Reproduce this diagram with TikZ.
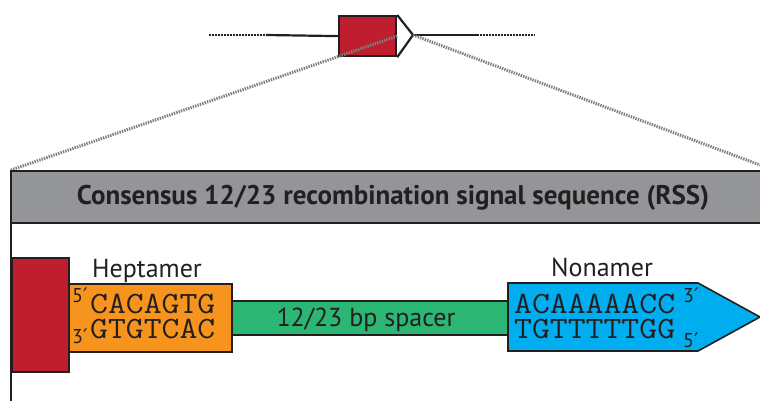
\documentclass[tikz,border=0pt]{standalone}
\usepackage{fontspec}
\setmainfont{PT Sans}
\newfontfamily\primefont{DejaVu Sans}
\definecolor{ink}{HTML}{231F20}
\definecolor{rssred}{HTML}{BE1E2D}
\definecolor{heptorange}{HTML}{F7941D}
\definecolor{spacergreen}{HTML}{2BB673}
\definecolor{nonblue}{HTML}{00AEEF}
\definecolor{headgray}{HTML}{939598}
\definecolor{zoomgray}{HTML}{7F7F7F}
\newcommand{\pr}{{\primefont ′}}
\newcommand{\seq}[1]{\scalebox{1.12}[1]{#1}}
\tikzset{
  outline/.style={draw=ink, line width=1.6pt},
  chrom/.style={draw=ink, line width=2.2pt},
  chromdots/.style={draw=ink, line width=2.2pt, dash pattern=on 1.5pt off 1.5pt},
  zoomline/.style={draw=zoomgray, line width=3pt, dash pattern=on 1.4pt off 1.1pt},
  label/.style={inner sep=0pt, text=ink, font=\fontsize{26}{26}\selectfont},
  seqtext/.style={inner sep=0pt, text=ink, anchor=north west, align=left,
    font=\ttfamily\fontsize{31}{25}\selectfont},
  endmark/.style={inner sep=0pt, text=ink, anchor=base west, font=\fontsize{20}{20}\selectfont},
}
\begin{document}
\begin{tikzpicture}[x=1pt, y=-1pt]
\useasboundingbox (0,0) rectangle (760,401);

% chromosome segment with the gene and its RSS
\coordinate (L0) at (209,35);
\coordinate (L1) at (266,35);
\coordinate (R1) at (477,35);
\coordinate (R0) at (535,35);
\node[outline, line width=2.2pt, fill=rssred, minimum width=57pt, minimum height=40pt, inner sep=0pt, anchor=north west] (gene) at (338,15) {};
\coordinate (tip) at (413,35);
\draw[chromdots] (L0) -- (L1);
\draw[chrom] (L1) -- (gene.west);
\draw[chrom, line join=miter] (gene.north east) -- (tip) -- (gene.south east);
\draw[chrom] (tip) -- (R1);
\draw[chromdots] (R1) -- (R0);

% zoom guides
\coordinate (zl) at (11,170);
\coordinate (zr) at (760,165);
\draw[zoomline] (gene.east) -- (zl);
\draw[zoomline] (tip) -- (zr);

% header band
\fill[headgray] (11,171) rectangle (760,223);
\draw[ink, line width=2.2pt] (760,171) -- (11,171) -- (11,401);
\draw[ink, line width=2.2pt] (11,223) -- (760,223);
\node[inner sep=0pt, text=ink, font=\bfseries\fontsize{27}{27}\selectfont] (title) at (393,198)
  {Consensus 12/23 recombination signal sequence (RSS)};

% RSS elements
\node[outline, fill=rssred, minimum width=57pt, minimum height=114pt, inner sep=0pt, anchor=north west] (coding) at (11,257) {};
\node[outline, fill=heptorange, minimum width=163pt, minimum height=68pt, inner sep=0pt, anchor=north west] (hept) at (68,283) {};
\node[outline, fill=spacergreen, minimum width=277pt, minimum height=34pt, inner sep=0pt, anchor=north west] (spacer) at (231,300) {};
\coordinate (nA) at (508,283);
\coordinate (nB) at (698,283);
\coordinate (nC) at (760,317);
\coordinate (nD) at (698,351);
\coordinate (nE) at (508,351);
\draw[outline, fill=nonblue, line join=miter] (nA) -- (nB) -- (nC) -- (nD) -- (nE) -- cycle;

% labels
\node[label, anchor=base] (heptlabel) at (147,277) {Heptamer};
\node[label, anchor=base] (nonlabel) at (602,276) {Nonamer};
\node[label, anchor=base] (spacerlabel) at (366,326) {12/23 bp spacer};

% heptamer sequence, both strands
\node[seqtext] (hseq) at (90,294) {\seq{CACAGTG}\\\seq{GTGTCAC}};
\node[endmark] (h5) at (72,302) {5\pr};
\node[endmark] (h3) at (72,343) {3\pr};

% nonamer sequence, both strands
\node[seqtext] (nseq) at (514,294) {\seq{ACAAAAACC}\\\seq{TGTTTTTGG}};
\node[endmark] (n3) at (683,302) {3\pr};
\node[endmark] (n5) at (683,347) {5\pr};
\end{tikzpicture}
\end{document}
